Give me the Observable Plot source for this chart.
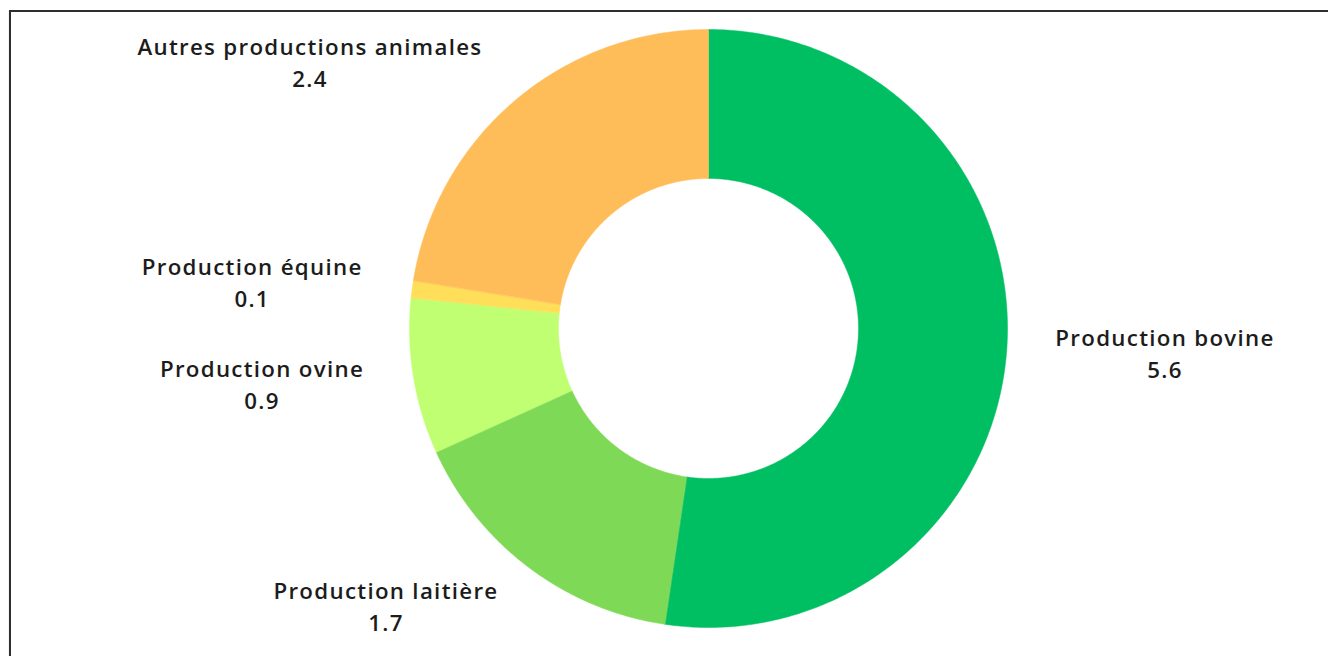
<!DOCTYPE html>
<html><head><meta charset="utf-8">
<script src="https://cdn.jsdelivr.net/npm/d3@7"></script>
<script src="https://cdn.jsdelivr.net/npm/@observablehq/plot@0.6"></script>
<style>
html,body{margin:0;padding:0;background:#fff;overflow:hidden;width:1328px;height:656px}
#frame{position:absolute;left:9px;top:10px;width:1400px;height:700px;border:2px solid #2e2e2e;box-shadow:0 1px 1px rgba(0,0,0,0.25)}
#chart{position:absolute;left:0;top:0}
#chart svg text{letter-spacing:1.3px}
</style></head><body><div id="frame"></div><div id="chart"></div>
<script>
const categories = ["Production bovine","Production laitière","Production ovine","Production équine","Autres productions animales"];
const values = [5.6, 1.7, 0.9, 0.1, 2.4];
const valueLabels = ["5.6", "1.7", "0.9", "0.1", "2.4"];
const colors = ["#00BF63", "#7ED957", "#C1FF72", "#FFDE59", "#FFBD59"];

// layout
const W = 1328, H = 656, cx = 708, cy = 328, R = 299;
const innerRatio = 150 / 299, labelRatio = 349 / 299;
const FONT_SIZE = 22.3, FONT = "'Open Sans', sans-serif", FONT_WEIGHT = 600, LETTER = 1.3;

const pie = d3.pie().sort(null).value(d => d)(values);

// polygon points for each slice
const pts = [];
pie.forEach((p, i) => {
  const n = Math.max(4, Math.ceil((p.endAngle - p.startAngle) / 0.01));
  for (let k = 0; k <= n; k++) {
    const a = p.startAngle + (p.endAngle - p.startAngle) * k / n;
    pts.push({name: categories[i], x: Math.sin(a), y: Math.cos(a)});
  }
  for (let k = n; k >= 0; k--) {
    const a = p.startAngle + (p.endAngle - p.startAngle) * k / n;
    pts.push({name: categories[i], x: innerRatio * Math.sin(a), y: innerRatio * Math.cos(a)});
  }
});

const ctx = document.createElement("canvas").getContext("2d");
ctx.font = `${FONT_WEIGHT} ${FONT_SIZE}px ${FONT}`;
const labels = pie.map((p, i) => {
  const mid = (p.startAngle + p.endAngle) / 2;
  const ax = labelRatio * Math.sin(mid), ay = labelRatio * Math.cos(mid);
  const w = (ctx.measureText(categories[i]).width + LETTER * (categories[i].length - 1)) / R;
  const right = Math.sin(mid) >= 0;
  return {text: categories[i] + "\n" + valueLabels[i], x: right ? ax + w / 2 : ax - w / 2, y: ay};
});

const chart = Plot.plot({
  width: W, height: H,
  margin: 0,
  x: {domain: [-cx / R, (W - cx) / R], axis: null},
  y: {domain: [-(H - cy) / R, cy / R], axis: null},
  color: {domain: categories, range: colors},
  marks: [
    Plot.line(pts, {x: "x", y: "y", z: "name", fill: "name", stroke: "name", strokeWidth: 0.5, curve: "linear-closed"}),
    Plot.text(labels, {x: "x", y: "y", text: "text", textAnchor: "middle", lineAnchor: "middle", dy: -2, dx: -0.6,
      lineHeight: 1.43, fontSize: FONT_SIZE, fontWeight: FONT_WEIGHT, fontFamily: FONT, fill: "#1c1c1c"})
  ]
});
chart.style.background = "transparent";
document.getElementById("chart").appendChild(chart);
</script></body></html>
